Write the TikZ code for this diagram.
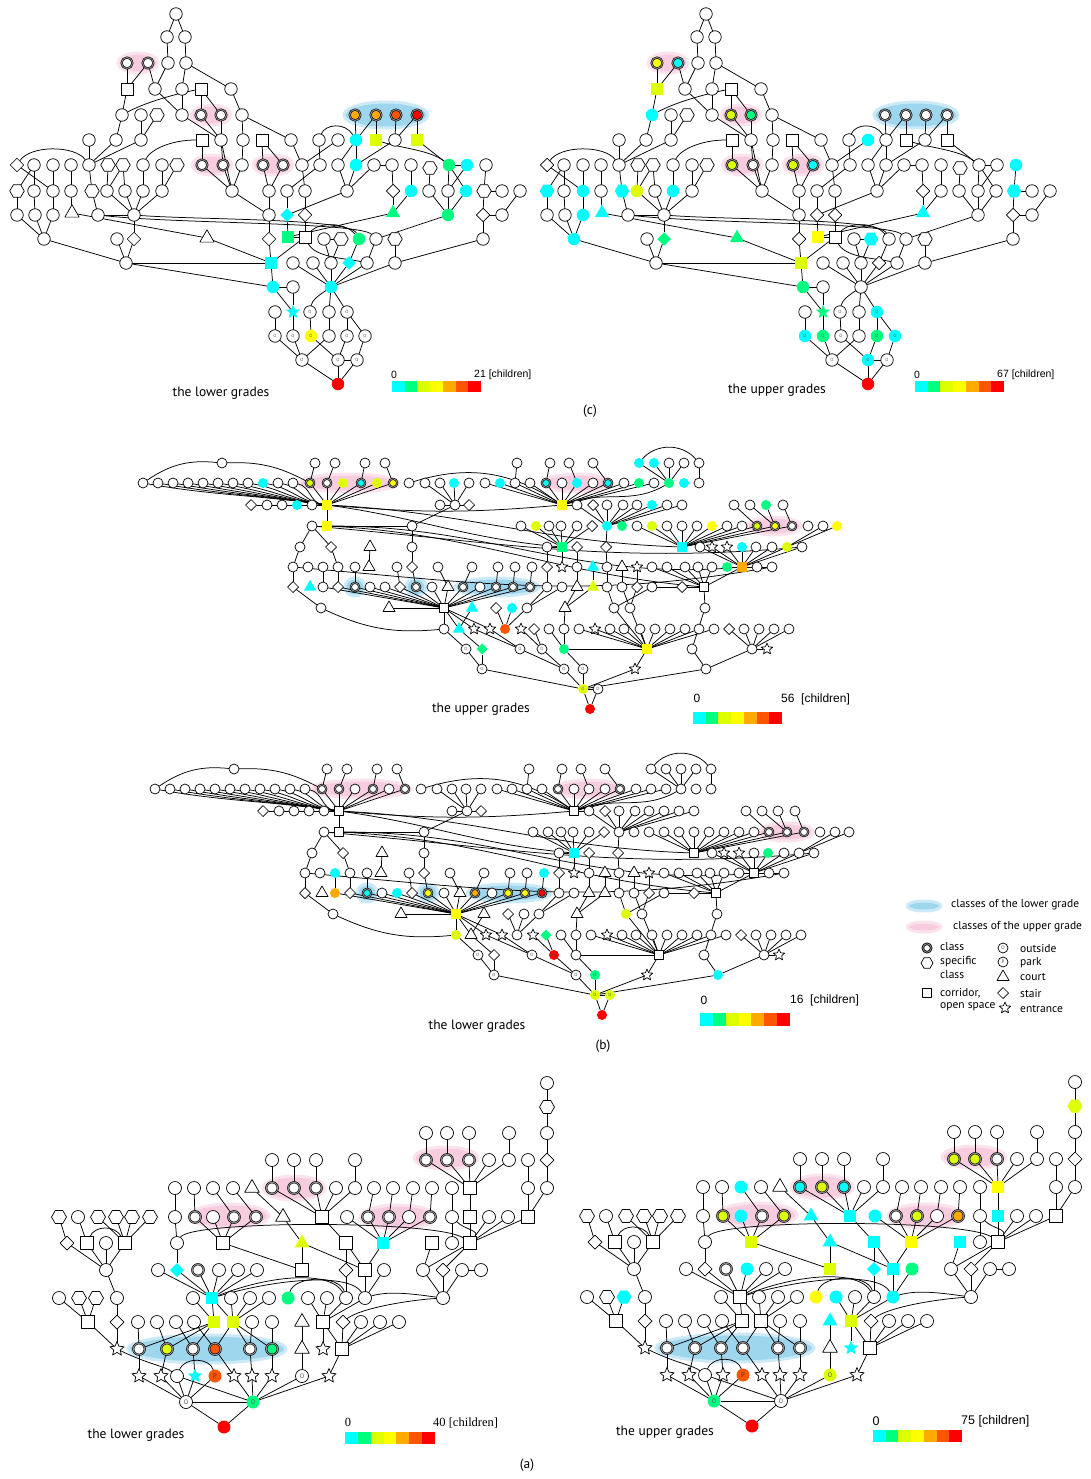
\documentclass[tikz,border=0pt]{standalone}
\usepackage{fontspec}
\setmainfont{PT Sans}
\newfontfamily\numfont{Liberation Sans}
\newfontfamily\serfont{Liberation Serif}
\usetikzlibrary{shapes.geometric}
\pgfdeclarelayer{background}
\pgfsetlayers{background,main}

\definecolor{ccy}{HTML}{00FFFF}
\definecolor{cgr}{HTML}{00FF80}
\definecolor{cyg}{HTML}{DDFF00}
\definecolor{cye}{HTML}{FFFF00}
\definecolor{cor}{HTML}{FFAA00}
\definecolor{cvr}{HTML}{FF5500}
\definecolor{cre}{HTML}{FF0000}
\definecolor{pinkin}{HTML}{F7CCDF}
\definecolor{pinkout}{HTML}{FBE3EE}
\definecolor{bluein}{HTML}{9ED6EE}
\definecolor{blueout}{HTML}{CBE9F6}

\def\nsz{12.5pt}
\def\osz{4.5}
\tikzset{
  nd/.style={inner sep=0pt, outer sep=0pt, line width=0.7pt, minimum size=\nsz},
  nc/.style={nd, circle},
  ncl/.style={nd, circle, draw, line width=0.6pt, double=black!45, double distance=0.9pt, minimum size=\nsz-1.5pt},
  nhex/.style={nd, regular polygon, regular polygon sides=6, minimum size=\nsz+2pt},
  nsq/.style={nd, rectangle, minimum size=\nsz-0.5pt},
  ntri/.style={nd, regular polygon, regular polygon sides=3, minimum size=\nsz+4pt},
  ndia/.style={nd, diamond, minimum size=\nsz+1pt},
  nstar/.style={nd, star, star points=5, star point ratio=2.2, minimum size=\nsz+2pt},
  nout/.style={nc, label={[font=\fontsize{\osz}{\osz}\selectfont, text=black!65, inner sep=0pt]center:O}},
  npark/.style={nc, label={[font=\fontsize{\osz}{\osz}\selectfont, text=black!80, inner sep=0pt]center:P}},
  fw/.style={fill=white, draw},
  fcy/.style={fill=ccy}, fgr/.style={fill=cgr}, fyg/.style={fill=cyg},
  fye/.style={fill=cye}, for/.style={fill=cor}, fvr/.style={fill=cvr}, fre/.style={fill=cre},
  lnk/.style={line width=0.75pt},
  pk/.style={fill=pinkin, draw=pinkout, line width=3pt},
  bl/.style={fill=bluein, draw=blueout, line width=3pt},
  gtxt/.style={font=\fontsize{13.5}{15}\selectfont, inner sep=0pt},
  lgd/.style={font=\fontsize{11.5}{12}\selectfont, inner sep=0pt, anchor=west},
  bartxt/.style={font=\numfont\fontsize{#1}{#1}\selectfont, inner sep=0pt},
}

% ---------- (c) ----------
\def\nodesC{1/176/14/nc/fw/fw, 2/167/37/nc/fw/fw, 3/185/37/nc/fw/fw, 4/127/63/ncl/fw/fye, 5/148/63/ncl/fw/fcy,
 6/168/63/nc/fw/fw, 7/186/63/nc/fw/fw, 8/127/89/nsq/fw/fyg, 9/155/89/nc/fw/fw, 10/182/89/nc/fw/fw,
 11/201/89/nsq/fw/fw, 12/231/89/nc/fw/fw, 13/122/115/nc/fw/fcy, 14/141/115/nc/fw/fw, 15/157/115/nhex/fw/fw,
 16/182/115/nc/fw/fw, 17/201/115/ncl/fw/fyg, 18/221/115/ncl/fw/fgr, 19/242/115/nc/fw/fw, 20/355/115/ncl/for/fw,
 21/376/115/ncl/for/fw, 22/396/115/ncl/fvr/fw, 23/417/115/ncl/fre/fw, 24/89/140/nc/fw/fw, 25/116/140/nc/fw/fw,
 26/141/140/nc/fw/fw, 27/202/140/nsq/fw/fw, 28/221/140/nc/fw/fw, 29/243/140/nc/fw/fw, 30/262/140/nsq/fw/fw,
 31/291/140/nc/fw/fw, 32/319/140/nc/fw/fw, 33/338/140/nc/fw/fcy, 34/356/140/nc/fcy/fw, 35/376/140/nsq/fyg/fw,
 36/395/140/nc/fw/fw, 37/417/140/nsq/fyg/fw, 38/17/165/ndia/fw/fw, 39/34/165/nc/fw/fw, 40/53/165/nc/fw/fw,
 41/71/165/nc/fw/fw, 42/89/165/nc/fw/fw, 43/108/165/nhex/fw/fw, 44/123/165/nhex/fw/fw, 45/143/165/nc/fw/fw,
 46/162/165/nc/fw/fw, 47/177/165/nhex/fw/fw, 48/202/165/ncl/fw/fyg, 49/223/165/ncl/fw/fw, 50/242/165/nc/fw/fw,
 51/263/165/ncl/fw/fyg, 52/283/165/ncl/fw/fcy, 53/302/165/nc/fw/fw, 54/320/165/nc/fw/fw, 55/338/165/nc/fw/fw,
 56/356/165/nc/fcy/fw, 57/374/165/nc/fw/fw, 58/392/165/nc/fw/fw, 59/411/165/nc/fw/fw, 60/430/168/nhex/fw/fw,
 61/449/165/nc/fgr/fw, 62/467/165/nc/fcy/fw, 63/486/165/nc/fw/fcy, 64/17/191/nhex/fw/fcy, 65/34/191/nc/fw/fw,
 66/53/191/nc/fw/fcy, 67/71/191/nc/fw/fw, 68/92/191/nhex/fw/fcy, 69/107/191/nc/fw/fyg, 70/125/191/nc/fw/fw,
 71/143/191/nc/fw/fcy, 72/162/191/nc/fw/fw, 73/232/191/nc/fw/fw, 74/269/191/nc/fw/fw, 75/287/191/nc/fw/fw,
 76/305/191/nc/fw/fw, 77/347/191/nc/fw/fw, 78/393/191/ndia/fw/fw, 79/411/191/nc/fcy/fw, 80/429/191/nc/fw/fw,
 81/448/191/nc/fw/fw, 82/466/191/nc/fcy/fw, 83/484/191/nhex/fw/fcy, 84/502/191/nc/fw/fw, 85/520/191/nc/fw/fw,
 86/17/215/nc/fw/fw, 87/35/215/nc/fw/fw, 88/53/215/nc/fw/fcy, 89/72/213/ntri/fw/fcy, 90/98/215/nc/fw/fw,
 91/134/215/nc/fw/fw, 92/269/215/nc/fw/fw, 93/287/215/ndia/fcy/fw, 94/305/215/ndia/fw/fw, 95/393/213/ntri/fgr/fcy,
 96/448/215/nc/fgr/fw, 97/483/215/ndia/fw/fw, 98/502/215/nc/fw/fw, 99/44/239/nc/fw/fcy, 100/117/239/nc/fw/fw,
 101/134/239/ndia/fw/fgr, 102/207/238/ntri/fw/fgr, 103/269/239/ndia/fw/fw, 104/288/237/nsq/fgr/fye, 105/305/237/nsq/fw/fw,
 106/324/239/nc/fw/fw, 107/341/239/nhex/fw/fcy, 108/359/239/nc/fgr/fw, 109/376/239/nc/fw/fw, 110/395/239/nhex/fw/fw,
 111/483/239/nc/fw/fw, 112/126/263/nc/fw/fw, 113/271/263/nsq/fcy/fyg, 114/293/263/nc/fw/fw, 115/313/263/nc/fw/fw,
 116/331/263/nc/fw/fw, 117/349/263/ndia/fcy/fw, 118/367/263/nc/fw/fw, 119/395/263/nc/fw/fw, 120/273/287/nc/fcy/fgr,
 121/293/287/nc/fw/fw, 122/331/287/nc/fcy/fw, 123/275/312/nc/fw/fw, 124/293/312/nstar/fcy/fgr, 125/310/312/nout/fw/fw,
 126/329/312/nc/fw/fw, 127/347/312/nout/fw/fcy, 128/275/336/nout/fw/fcy, 129/293/336/nout/fw/fgr, 130/311/336/nout/fye/fw,
 131/329/336/nc/fw/fw, 132/347/336/nout/fw/fgr, 133/365/336/nout/fw/fcy, 134/302/360/nout/fw/fw, 135/338/360/nout/fw/fcy,
 136/357/360/nout/fw/fw, 137/338/384/nc/fre/fre}
\def\edgesC{1/2,1/3,2/6,3/7,4/8,5/8,5/9,6/9,7/10,7/12,10/16,8/13,9/16,11/17,11/18,12/19,13/25,14/26,15/26,24/42,25/42,26/42,
 16/28,18/28,17/28,19/29,19/31,27/48,28/49,29/50,30/51,30/52,48/73,49/73,50/73,28/73,38/66,39/64,39/65,40/66,41/67,64/86,
 65/87,66/88,67/89,86/99,87/99,88/99,89/102,102/113,42/68,68/90,90/91,43/69,44/69,44/70,45/71,46/72,47/72,69/91,70/91,
 71/91,72/91,91/101,101/112,100/112,99/112,112/113,112/120,73/92,51/74,52/74,74/92,92/103,103/113,75/93,76/94,93/104,
 94/105,104/105,105/113,20/34,21/34,21/35,22/36,23/36,23/37,34/55,34/56,36/56,31/53,32/54,33/53,53/76,54/75,55/77,56/77,
 57/77,77/93,57/58,58/78,59/79,60/80,61/62,37/61,61/81,61/82,62/81,63/83,83/84,78/95,79/95,95/104,80/96,81/96,82/96,
 96/109,83/97,85/98,97/98,97/111,111/119,108/117,109/118,110/119,106/116,107/116,106/107,113/120,114/122,115/122,116/122,
 117/122,118/122,119/122,120/121,120/124,121/124,122/126,122/127,123/128,124/129,125/130,126/131,127/132,127/133,
 128/134,129/134,131/134,130/135,132/135,133/136,135/136,134/137,135/137,136/137}

% ---------- (b) ----------
\def\nodesB{1/222/463/nc/fw/fw, 2/315/463/nc/fw/fw, 3/335/463/nc/fw/fw, 4/365/463/nc/fw/fw, 5/385/463/nc/fw/fw,
 6/517/463/nc/fw/fw, 7/550/463/nc/fw/fw, 8/569/463/nc/fw/fw, 9/593/463/nc/fw/fw, 10/639/463/nc/fcy/fw,
 11/654/463/nc/fcy/fw, 12/669/463/nc/fw/fw, 13/684/463/nc/fw/fw, 14/699/463/nc/fw/fw, 15/143/483/nc/fw/fw,
 16/158/483/nc/fw/fw, 17/173/483/nc/fw/fw, 18/188/483/nc/fw/fw, 19/203/483/nc/fw/fw, 20/218/483/nc/fw/fw,
 21/233/483/nc/fw/fw, 22/248/483/nc/fw/fw, 23/263/483/nc/fcy/fw, 24/278/483/nc/fw/fw, 25/293/483/nc/fw/fw,
 26/310/483/ncl/fyg/fw, 27/327/483/ncl/fw/fw, 28/343/483/nc/fyg/fw, 29/361/483/ncl/fcy/fw, 30/377/483/nc/fyg/fw,
 31/393/483/ncl/fye/fw, 32/409/483/nc/fw/fw, 33/425/483/nc/fw/fw, 34/440/483/nc/fw/fw, 35/454/483/nc/fcy/fw,
 36/469/483/nc/fw/fw, 37/485/483/nc/fw/fw, 38/500/483/nc/fcy/fw, 39/515/483/nc/fw/fw, 40/530/483/nc/fw/fw,
 41/546/483/ncl/fcy/fw, 42/562/483/nc/fw/fw, 43/577/483/nc/fcy/fw, 44/593/483/nc/fw/fw, 45/608/483/ncl/fcy/fw,
 46/624/483/nc/fw/fw, 47/639/483/nc/fgr/fw, 48/654/483/nc/fw/fw, 49/669/483/nc/fgr/fw, 50/684/483/nc/fcy/fw,
 51/699/483/nc/fw/fw, 52/251/505/ndia/fw/fw, 53/267/505/nc/fw/fw, 54/282/505/nc/fw/fw, 55/297/505/nc/fcy/fw,
 56/312/505/nc/fw/fw, 57/327/505/nsq/fye/fw, 58/440/505/nc/fw/fw, 59/455/505/nc/fw/fw, 60/469/505/ndia/fw/fw,
 61/562/505/nsq/fye/fw, 62/577/505/nc/fw/fw, 63/593/505/ndia/fw/fw, 64/607/505/nc/fw/fw, 65/623/505/nc/fw/fw,
 66/637/505/nc/fw/fw, 67/652/505/nc/fcy/fw, 68/667/505/nc/fw/fw, 69/682/505/nc/fw/fw, 70/734/505/nc/fw/fw,
 71/750/505/nc/fw/fw, 72/766/505/nc/fgr/fw, 73/783/505/nc/fw/fw, 74/312/526/nc/fw/fw, 75/327/526/nsq/fye/fw,
 76/412/526/nc/fw/fw, 77/521/526/nc/fw/fw, 78/536/526/nc/fyg/fw, 79/549/526/nc/fw/fw, 80/561/526/nc/fw/fw,
 81/577/526/nc/fw/fw, 82/592/526/ndia/fw/fw, 83/607/526/nc/fcy/fw, 84/622/526/nc/fgr/fw, 85/637/526/nc/fw/fw,
 86/652/526/nc/fyg/fw, 87/667/526/nc/fw/fw, 88/682/526/nc/fw/fw, 89/697/526/nc/fw/fw, 90/712/526/nc/fye/fw,
 91/727/526/nc/fw/fw, 92/742/526/nc/fw/fw, 93/757/526/ncl/fyg/fw, 94/775/526/ncl/fye/fw, 95/792/526/ncl/fw/fw,
 96/808/526/nc/fw/fw, 97/823/526/nc/fw/fw, 98/837/526/nc/fye/fw, 99/300/547/nc/fw/fw, 100/331/547/ndia/fw/fw,
 101/370/547/ntri/fw/fw, 102/412/547/nc/fw/fw, 103/547/547/nc/fw/fw, 104/562/547/nsq/fgr/fcy, 105/577/547/ndia/fw/fw,
 106/606/547/ndia/fw/fw, 107/682/547/nsq/fcy/fw, 108/700/547/nc/fw/fw, 109/712/547/nstar/fw/fw, 110/727/547/nstar/fw/fw,
 111/742/547/nc/fcy/fw, 112/756/547/nc/fw/fgr, 113/772/547/nc/fw/fw, 114/787/547/nc/fyg/fw, 115/802/547/nc/fw/fw,
 116/293/567/nc/fw/fw, 117/308/567/nc/fw/fw, 118/323/567/nc/fw/fcy, 119/338/567/nc/fw/fw, 120/355/567/nc/fw/fw,
 121/369/567/ntri/fw/fw, 122/397/567/nc/fw/fw, 123/412/567/ndia/fw/fw, 124/438/567/nc/fw/fw, 125/472/567/nc/fw/fw,
 126/498/567/nc/fw/fw, 127/515/567/nc/fw/fw, 128/532/567/nc/fw/fcy, 129/547/567/ndia/fw/fw, 130/562/567/nstar/fw/fw,
 131/577/567/nc/fw/fw, 132/593/567/ntri/fcy/fw, 133/607/567/nc/fw/fw, 134/622/567/ntri/fw/fw, 135/637/567/nstar/fw/fw,
 136/652/567/nc/fw/fw, 137/667/567/nc/fw/fw, 138/685/567/nc/fw/fw, 139/698/567/nc/fw/fw, 140/712/567/nc/fw/fw,
 141/727/567/nc/fgr/fw, 142/742/567/nsq/for/fw, 143/757/567/nc/fw/fw, 144/772/567/nc/fw/fw, 145/293/587/ndia/fw/fw,
 146/310/587/ntri/fcy/fw, 147/323/587/nc/fw/for, 148/338/587/ndia/fw/fw, 149/355/587/ncl/fw/fcy, 150/370/587/nc/fw/fw,
 151/385/587/nc/fw/fcy, 152/400/587/ndia/fw/fw, 153/416/587/ncl/fw/fye, 154/432/587/nc/fw/fw, 155/448/587/ntri/fw/fw,
 156/463/587/ncl/fw/for, 157/480/587/nc/fw/fw, 158/496/587/ncl/fw/fye, 159/513/587/ncl/fw/fye, 160/530/587/ncl/fw/fre,
 161/547/587/nc/fw/fw, 162/562/587/nc/fw/fw, 163/577/587/ntri/fw/fw, 164/593/587/ntri/fyg/fw, 165/607/587/nc/fw/fw,
 166/622/587/nc/fw/fw, 167/637/587/ndia/fw/fw, 168/652/587/nc/fw/fw, 169/682/587/ndia/fw/fw, 170/704/587/nsq/fw/fw,
 171/321/608/nc/fw/fw, 172/389/608/ntri/fw/fw, 173/444/608/nsq/fw/fye, 174/472/608/ntri/fcy/fw, 175/496/608/ndia/fw/fw,
 176/512/608/nc/fcy/fw, 177/527/608/nc/fw/fw, 178/565/608/ntri/fw/fw, 179/614/608/nc/fw/fyg, 180/630/608/nc/fw/fw,
 181/705/608/nc/fw/fw, 182/444/629/nc/fw/fyg, 183/459/629/ntri/fcy/fw, 184/474/629/nstar/fw/fw, 185/490/629/nstar/fw/fw,
 186/505/629/nc/fvr/fw, 187/521/629/nstar/fw/fw, 188/534/629/ndia/fw/fgr, 189/549/629/nc/fw/fw, 190/564/629/nc/fw/fw,
 191/579/629/nc/fw/fw, 192/595/629/nstar/fw/fw, 193/610/629/nc/fw/fw, 194/624/629/nc/fw/fw, 195/640/629/nc/fw/fw,
 196/655/629/nc/fw/fw, 197/670/629/nc/fw/fw, 198/685/629/nc/fw/fw, 199/699/629/nc/fw/fw, 200/714/629/nc/fw/fw,
 201/729/629/ndia/fw/fw, 202/744/629/nc/fw/fw, 203/759/629/nc/fw/fw, 204/774/629/nc/fw/fw, 205/789/629/nc/fw/fw,
 206/466/649/nout/fw/fw, 207/482/649/ndia/fgr/fw, 208/520/649/nout/fw/fw, 209/542/649/nout/fw/fre, 210/564/649/nc/fgr/fw,
 211/647/649/nsq/fye/fw, 212/692/649/nc/fw/fw, 213/752/649/nc/fw/fw, 214/767/649/nstar/fw/fw, 215/482/669/nout/fw/fw,
 216/564/669/nout/fw/fw, 217/583/669/nout/fw/fgr, 218/635/669/nstar/fw/fw, 219/706/669/nc/fw/fcy, 220/583/689/nout/fyg/fyg,
 221/598/689/nout/fw/fyg, 222/590/709/nc/fre/fre}
\def\edgesB{2/26,3/27,4/29,5/31,26/57,27/57,28/57,29/57,30/57,31/57,52/57,53/57,54/57,55/57,56/57,57/75,75/74,74/99,74/100,
 99/116,116/145,100/119,75/76,76/102,102/123,101/121,59/76,58/59,59/60,33/59,34/59,35/59,36/59,6/39,7/41,8/43,9/45,10/49,
 11/49,12/49,13/49,14/51,37/61,38/61,39/61,40/61,41/61,42/61,43/61,44/61,45/61,46/61,47/61,48/61,61/62,62/83,63/83,64/83,
 65/83,66/83,67/83,68/83,69/83,83/106,106/133,70/93,71/94,72/94,73/95,85/107,86/107,87/107,88/107,89/107,90/107,91/107,
 92/107,93/107,94/107,95/107,97/114,98/114,77/104,78/104,79/104,80/104,81/104,82/104,103/104,104/130,103/129,105/131,
 108/142,109/142,110/142,111/142,112/142,113/142,114/142,115/142,141/142,143/142,144/142,142/170,136/170,137/170,138/170,
 139/170,140/170,168/170,169/170,170/181,118/147,119/148,120/149,122/152,123/153,124/155,125/156,126/158,127/159,128/160,
 129/161,131/163,132/164,133/165,134/166,135/167,147/173,148/173,149/173,150/173,151/173,152/173,153/173,154/173,155/173,
 156/173,157/173,158/173,159/173,160/173,145/171,172/173,173/182,173/183,173/184,173/185,174/183,175/186,176/186,177/186,
 161/177,162/177,163/178,164/178,178/190,165/179,166/180,168/179,167/180,179/211,180/211,191/211,192/211,193/211,194/211,
 195/211,196/211,197/211,198/211,199/211,200/211,189/210,190/210,188/209,210/211,181/212,201/213,202/213,203/213,204/213,
 205/213,213/214,182/206,183/207,206/215,207/215,184/208,185/208,187/209,208/216,209/216,210/217,211/218,216/220,217/220,
 218/220,219/220,215/220,220/221,220/222,221/222,212/219,213/219}

% ---------- (a) ----------
\def\nodesA{1/507/13/nc/fw/fw, 2/507/37/nhex/fw/fyg, 3/507/63/nc/fw/fw, 4/507/90/ndia/fw/fw, 5/507/118/nc/fw/fw,
 6/488/90/nc/fw/fw, 7/488/118/nc/fw/fw, 8/488/147/nsq/fw/fw, 9/386/63/nc/fw/fw, 10/407/63/nc/fw/fw,
 11/429/63/nc/fw/fw, 12/469/63/nc/fw/fw, 13/386/90/ncl/fw/fyg, 14/407/90/ncl/fw/fyg, 15/429/90/ncl/fw/fw,
 16/449/90/nc/fw/fw, 17/469/90/nc/fw/fw, 18/430/118/nsq/fw/fye, 19/430/147/nsq/fw/fcy, 20/430/173/nsq/fw/fw,
 21/232/90/nc/fw/fw, 22/254/90/nc/fw/fw, 23/276/90/nc/fw/fw, 24/315/90/nc/fw/fw, 25/135/118/nc/fw/fw,
 26/154/118/nc/fw/fw, 27/173/118/nc/fw/fcy, 28/193/118/nc/fw/fw, 29/212/118/ntri/fw/fw, 30/232/118/ncl/fw/fcy,
 31/254/118/ncl/fw/fyg, 32/276/118/ncl/fw/fcy, 33/296/118/nc/fw/fw, 34/315/118/nc/fw/fw, 35/334/118/nc/fw/fw,
 36/353/118/nc/fw/fw, 37/373/118/nc/fw/fw, 38/392/118/nc/fw/fw, 39/412/118/nc/fw/fw, 40/19/147/nhex/fw/fw,
 41/38/147/nc/fw/fw, 42/58/147/nhex/fw/fw, 43/76/147/nhex/fw/fw, 44/92/147/nhex/fw/fw, 45/110/147/nhex/fw/fw,
 46/135/147/nc/fw/fw, 47/155/147/ncl/fw/fyg, 48/173/147/nc/fw/fcy, 49/194/147/ncl/fw/fw, 50/216/147/ncl/fw/fyg,
 51/243/147/ntri/fw/fcy, 52/282/147/nsq/fw/fcy, 53/307/147/nc/fw/fcy, 54/328/147/ncl/fw/fw, 55/349/147/ncl/fw/fyg,
 56/369/147/nc/fw/fw, 57/390/147/ncl/fw/for, 58/412/147/nc/fw/fw, 59/449/147/nc/fw/fw, 60/468/147/nc/fw/fw,
 61/27/173/ndia/fw/fw, 62/47/173/nsq/fw/fw, 63/66/173/nc/fw/fw, 64/85/173/nsq/fw/fw, 65/137/173/nc/fw/fw,
 66/183/173/nsq/fw/fyg, 67/262/173/ntri/fyg/fcy, 68/306/173/nsq/fw/fcy, 69/343/173/nsq/fcy/fye, 70/392/173/nsq/fw/fcy,
 71/412/173/nc/fw/fw, 72/66/200/nc/fw/fw, 73/118/200/nc/fw/fw, 74/137/200/ndia/fcy/fw, 75/158/200/ncl/fw/fw,
 76/179/200/nc/fw/fcy, 77/198/200/nc/fw/fw, 78/217/200/nc/fw/fw, 79/262/200/nsq/fw/fyg, 80/306/200/ndia/fw/fcy,
 81/325/200/nsq/fw/fcy, 82/344/200/nc/fw/fgr, 83/383/200/nc/fw/fw, 84/403/200/ndia/fw/fw, 85/422/200/nc/fw/fw,
 86/441/200/nc/fw/fw, 87/19/228/nc/fw/fw, 88/39/228/nhex/fw/fw, 89/56/228/nhex/fw/fcy, 90/77/228/nc/fw/fw,
 91/153/228/nc/fw/fw, 92/172/228/nsq/fcy/fw, 93/191/228/nc/fw/fw, 94/210/228/nc/fw/fw, 95/229/228/nc/fw/fw,
 96/248/228/nc/fgr/fye, 97/268/228/nc/fw/fcy, 98/287/228/nc/fw/fw, 99/306/228/nc/fw/fw, 100/325/228/nc/fw/fcy,
 101/403/228/nc/fw/fw, 102/48/252/nsq/fw/fw, 103/77/252/ndia/fw/fw, 104/98/252/nc/fw/fw, 105/117/252/nc/fw/fw,
 106/136/252/nc/fw/fw, 107/154/252/nc/fw/fw, 108/174/252/nsq/fyg/fw, 109/193/252/nsq/fyg/fw, 110/212/252/nc/fw/fw,
 111/232/252/nc/fw/fw, 112/262/252/ntri/fw/fcy, 113/283/252/nsq/fw/fyg, 114/303/252/ndia/fw/fw, 115/321/252/nc/fw/fw,
 116/340/252/nc/fw/fw, 117/359/252/nc/fw/fw, 118/77/279/nstar/fw/fw, 119/99/279/ncl/fw/fw, 120/127/279/ncl/fyg/fw,
 121/153/279/ncl/fw/fw, 122/175/279/ncl/fvr/fw, 123/210/279/ncl/fw/fw, 124/232/279/ncl/fgr/fw, 125/262/279/ntri/fw/fw,
 126/283/279/nstar/fw/fcy, 127/302/279/nsq/fw/fw, 128/99/306/nstar/fw/fw, 129/121/306/nstar/fw/fw, 130/137/306/nc/fw/fw,
 131/155/306/nstar/fcy/fw, 132/175/306/npark/fvr/fvr, 133/194/306/nstar/fw/fw, 134/212/306/nstar/fw/fw, 135/232/306/nstar/fw/fw,
 136/262/306/nout/fw/fyg, 137/289/306/nstar/fw/fw, 138/146/332/nout/fw/fgr, 139/213/332/nout/fgr/fw, 140/184/357/nc/fre/fre}
\def\edgesA{1/2,2/3,3/4,4/5,5/8,6/7,7/8,8/20,9/13,10/14,11/15,12/17,13/18,14/18,15/18,16/18,17/18,18/19,19/20,21/30,22/31,
 23/32,24/34,30/52,31/52,32/52,33/52,34/52,25/46,26/47,27/49,28/50,29/51,51/67,35/54,36/55,37/56,38/57,39/58,53/69,54/69,
 55/69,56/69,57/69,58/71,59/20,60/20,40/61,41/62,42/64,43/64,44/64,45/64,61/72,62/72,63/72,64/72,72/90,90/103,103/118,
 46/65,47/66,48/66,49/66,50/66,66/79,67/79,67/81,52/68,68/80,68/81,80/99,69/81,81/100,82/100,70/83,20/83,83/101,84/101,
 85/101,85/86,84/20,65/74,73/92,74/92,75/92,76/92,77/92,78/92,92/108,92/109,91/108,93/109,94/109,95/109,87/102,88/102,
 89/102,102/118,104/119,105/120,106/121,107/122,110/123,111/124,108/119,108/120,108/121,109/122,109/123,109/124,97/113,
 98/113,99/113,100/113,113/126,114/127,115/127,116/127,117/127,113/127,112/125,125/136,127/137,119/128,120/129,121/131,
 122/133,123/134,124/135,128/138,129/138,130/138,131/138,132/138,133/139,134/139,135/139,136/139,137/139,138/139,130/139,
 138/140,139/140}

\begin{document}
\begin{tikzpicture}[x=1pt, y=-1pt, line join=round, line cap=round]
\useasboundingbox (0,0) rectangle (1090,1479);

% (c) the lower grades
\begin{scope}
  \begin{pgfonlayer}{background}
    \draw[pk] (138,63) ellipse (20pt and 10pt);
    \draw[pk] (211,115) ellipse (20pt and 10pt);
    \draw[pk] (212,165) ellipse (20pt and 10pt);
    \draw[pk] (273,165) ellipse (20pt and 10pt);
    \draw[bl] (386,115) ellipse (42pt and 13pt);
  \end{pgfonlayer}
  \foreach \n/\x/\y/\s/\ca/\cb in \nodesC {\node[\s,\ca] (cL\n) at (\x,\y) {};}
  \begin{pgfonlayer}{background}
    \foreach \u/\v in \edgesC {\draw[lnk] (cL\u) -- (cL\v);}
    \draw[lnk] (cL38) .. controls (30,145) and (75,145) .. (cL42);
    \draw[lnk] (cL13) .. controls (150,100) and (185,92) .. (cL11);
    \draw[lnk] (cL27) .. controls (170,140) and (150,150) .. (cL45);
    \draw[lnk] (cL32) .. controls (325,124) and (345,122) .. (cL34);
    \draw[lnk] (cL105) .. controls (320,222) and (345,222) .. (cL108);
    \draw[lnk] (cL105) .. controls (315,258) and (345,258) .. (cL118);
    \draw[lnk] (cL35) .. controls (400,148) and (430,150) .. (cL61);
    \draw[lnk] (cL122) .. controls (318,296) and (312,300) .. (cL125);
    \draw[lnk] (cL90) .. controls (180,224) and (360,222) .. (cL109);
    \draw[lnk] (cL91) .. controls (200,220) and (350,218) .. (cL108);
  \end{pgfonlayer}
\end{scope}
\node[gtxt] (lowC) at (221,393) {the lower grades};
\foreach \c [count=\i from 0] in {ccy,cgr,cyg,cye,cor,cvr,cre}
  \fill[\c] ({392+\i*12.7},381) rectangle ++(12.7,11);
\node[bartxt=10.5] (zeroCL) at (394,375) {0};
\node[bartxt=10.5, anchor=west] (maxCL) at (474,375) {21 [children]};

% (c) the upper grades
\begin{scope}[shift={(530,0)}]
  \begin{pgfonlayer}{background}
    \draw[pk] (138,63) ellipse (20pt and 10pt);
    \draw[pk] (211,115) ellipse (20pt and 10pt);
    \draw[pk] (212,165) ellipse (20pt and 10pt);
    \draw[pk] (273,165) ellipse (20pt and 10pt);
    \draw[bl] (386,115) ellipse (42pt and 13pt);
  \end{pgfonlayer}
  \foreach \n/\x/\y/\s/\ca/\cb in \nodesC {\node[\s,\cb] (cR\n) at (\x,\y) {};}
  \begin{pgfonlayer}{background}
    \foreach \u/\v in \edgesC {\draw[lnk] (cR\u) -- (cR\v);}
    \draw[lnk] (cR38) .. controls (30,145) and (75,145) .. (cR42);
    \draw[lnk] (cR13) .. controls (150,100) and (185,92) .. (cR11);
    \draw[lnk] (cR27) .. controls (170,140) and (150,150) .. (cR45);
    \draw[lnk] (cR32) .. controls (325,124) and (345,122) .. (cR34);
    \draw[lnk] (cR105) .. controls (320,222) and (345,222) .. (cR108);
    \draw[lnk] (cR105) .. controls (315,258) and (345,258) .. (cR118);
    \draw[lnk] (cR35) .. controls (400,148) and (430,150) .. (cR61);
    \draw[lnk] (cR122) .. controls (318,296) and (312,300) .. (cR125);
    \draw[lnk] (cR90) .. controls (180,224) and (360,222) .. (cR109);
    \draw[lnk] (cR91) .. controls (200,220) and (350,218) .. (cR108);
  \end{pgfonlayer}
\end{scope}
\node[gtxt] (uppC) at (777,390) {the upper grades};
\foreach \c [count=\i from 0] in {ccy,cgr,cyg,cye,cor,cvr,cre}
  \fill[\c] ({915+\i*12.7},381) rectangle ++(12.7,11);
\node[bartxt=10.5] (zeroCR) at (917,375) {0};
\node[bartxt=10.5, anchor=west] (maxCR) at (997,375) {67 [children]};
\node[gtxt] (capC) at (590,411) {(c)};

% (b) the upper grades
\begin{scope}
  \def\nsz{10pt}
  \begin{pgfonlayer}{background}
    \draw[pk] (349,483) ellipse (50pt and 9pt);
    \draw[pk] (577,483) ellipse (35pt and 9pt);
    \draw[pk] (774,526) ellipse (27pt and 9pt);
    \draw[bl] (355,587) ellipse (10pt and 9pt);
    \draw[bl] (416,587) ellipse (10pt and 9pt);
    \draw[bl] (497,587) ellipse (42pt and 9pt);
  \end{pgfonlayer}
  \foreach \n/\x/\y/\s/\ca/\cb in \nodesB {\node[\s,\ca] (bT\n) at (\x,\y) {};}
  \begin{pgfonlayer}{background}
    \foreach \u/\v in \edgesB {\draw[lnk] (bT\u) -- (bT\v);}
    \foreach \i in {15,...,25} {\draw[lnk] (bT\i) to[out=-10,in=172] (bT57);}
    \draw[lnk] (bT15) to[bend left=20] (bT1);
    \draw[lnk] (bT1) to[bend left=15] (bT26);
    \draw[lnk] (bT57) to[out=-5,in=185] (bT61);
    \draw[lnk] (bT57) to[out=-8,in=175] (bT104);
    \draw[lnk] (bT57) to[out=-3,in=178] (bT107);
    \draw[lnk] (bT75) to[out=0,in=185] (bT142);
    \draw[lnk] (bT75) to[out=-3,in=175] (bT170);
    \draw[lnk] (bT32) to[bend left=25] (bT61);
    \draw[lnk] (bT10) to[bend left=50] (bT14);
    \draw[lnk] (bT49) to[out=-150,in=20] (bT61);
    \draw[lnk] (bT171) to[bend right=15] (bT182);
    \draw[lnk] (bT74) to[out=-5,in=185] (bT115);
    \draw[lnk] (bT116) to[out=-5,in=190] (bT144);
  \end{pgfonlayer}
\end{scope}
\node[gtxt] (uppB) at (481,709) {the upper grades};
\foreach \c [count=\i from 0] in {ccy,cgr,cyg,cye,cor,cvr,cre}
  \fill[\c] ({693+\i*12.7},712) rectangle ++(12.7,12);
\node[bartxt=12] (zeroBT) at (697,698) {0};
\node[bartxt=12, anchor=west] (maxBT) at (781,699) {56\ \ [children]};

% (b) the lower grades
\begin{scope}[shift={(12,306)}]
  \def\nsz{10pt}
  \begin{pgfonlayer}{background}
    \draw[pk] (349,483) ellipse (50pt and 9pt);
    \draw[pk] (577,483) ellipse (35pt and 9pt);
    \draw[pk] (774,526) ellipse (27pt and 9pt);
    \draw[bl] (355,587) ellipse (10pt and 9pt);
    \draw[bl] (416,587) ellipse (10pt and 9pt);
    \draw[bl] (497,587) ellipse (42pt and 9pt);
  \end{pgfonlayer}
  \foreach \n/\x/\y/\s/\ca/\cb in \nodesB {\node[\s,\cb] (bB\n) at (\x,\y) {};}
  \begin{pgfonlayer}{background}
    \foreach \u/\v in \edgesB {\draw[lnk] (bB\u) -- (bB\v);}
    \foreach \i in {15,...,25} {\draw[lnk] (bB\i) to[out=-10,in=172] (bB57);}
    \draw[lnk] (bB15) to[bend left=20] (bB1);
    \draw[lnk] (bB1) to[bend left=15] (bB26);
    \draw[lnk] (bB57) to[out=-5,in=185] (bB61);
    \draw[lnk] (bB57) to[out=-8,in=175] (bB104);
    \draw[lnk] (bB57) to[out=-3,in=178] (bB107);
    \draw[lnk] (bB75) to[out=0,in=185] (bB142);
    \draw[lnk] (bB75) to[out=-3,in=175] (bB170);
    \draw[lnk] (bB32) to[bend left=25] (bB61);
    \draw[lnk] (bB10) to[bend left=50] (bB14);
    \draw[lnk] (bB49) to[out=-150,in=20] (bB61);
    \draw[lnk] (bB171) to[bend right=15] (bB182);
    \draw[lnk] (bB74) to[out=-5,in=185] (bB115);
    \draw[lnk] (bB116) to[out=-5,in=190] (bB144);
  \end{pgfonlayer}
\end{scope}
\node[gtxt] (lowB) at (477,1026) {the lower grades};
\foreach \c [count=\i from 0] in {ccy,cgr,cyg,cye,cor,cvr,cre}
  \fill[\c] ({700+\i*12.85},1013) rectangle ++(12.85,13);
\node[bartxt=12] (zeroBB) at (704,1000) {0};
\node[bartxt=12, anchor=west] (maxBB) at (790,1000) {16\ \ [children]};
\node[gtxt] (capB) at (603,1046) {(b)};

% legend
\begin{scope}
  \def\nsz{10pt}
  \def\osz{5}
  \draw[bl] (924,906) ellipse (17pt and 5pt);
  \draw[pk] (924,927) ellipse (17pt and 5pt);
  \node[lgd] (lgLow) at (951,905) {classes of the lower grade};
  \node[lgd] (lgUpp) at (953,927) {classes of the upper grade};
  \node[ncl,fw, line width=0.8pt] (lgCls) at (927,948) {};
  \node[nhex,fw] (lgHex) at (927,963) {};
  \node[nsq,fw] (lgSq) at (927,993) {};
  \node[nout,fw] (lgOut) at (1003,948) {};
  \node[npark,fw] (lgPark) at (1003,962) {};
  \node[ntri,fw] (lgTri) at (1003,977) {};
  \node[ndia,fw] (lgDia) at (1003,993) {};
  \node[nstar,fw] (lgStar) at (1005,1008) {};
  \node[lgd] (tCls) at (940,947) {class};
  \node[lgd] (tSpec) at (940,962) {specific};
  \node[lgd] (tSpec2) at (940,975) {class};
  \node[lgd] (tCor) at (940,993) {corridor,};
  \node[lgd] (tCor2) at (940,1007) {open space};
  \node[lgd] (tOut) at (1020,948) {outside};
  \node[lgd] (tPark) at (1020,963) {park};
  \node[lgd] (tCourt) at (1020,977) {court};
  \node[lgd] (tStair) at (1020,993) {stair};
  \node[lgd] (tEnt) at (1020,1009) {entrance};
\end{scope}

% (a) the lower grades
\begin{scope}[shift={(40,1070)}]
  \def\nsz{13pt}
  \def\osz{6.5}
  \begin{pgfonlayer}{background}
    \draw[pk] (406,88) ellipse (32pt and 11pt);
    \draw[pk] (254,118) ellipse (31pt and 12pt);
    \draw[pk] (189,146) ellipse (40pt and 12pt);
    \draw[pk] (358,147) ellipse (38pt and 12pt);
    \draw[bl] (167,279) ellipse (79pt and 14pt);
  \end{pgfonlayer}
  \foreach \n/\x/\y/\s/\ca/\cb in \nodesA {\node[\s,\ca] (aL\n) at (\x,\y) {};}
  \begin{pgfonlayer}{background}
    \foreach \u/\v in \edgesA {\draw[lnk] (aL\u) -- (aL\v);}
    \draw[lnk] (aL65) .. controls (150,150) and (400,150) .. (aL20);
    \draw[lnk] (aL62) .. controls (55,155) and (75,155) .. (aL64);
    \draw[lnk] (aL92) .. controls (230,205) and (290,200) .. (aL99);
    \draw[lnk] (aL92) .. controls (240,208) and (310,203) .. (aL100);
    \draw[lnk] (aL96) .. controls (255,205) and (300,205) .. (aL99);
    \draw[lnk] (aL100) .. controls (350,220) and (380,225) .. (aL101);
    \draw[lnk] (aL114) .. controls (320,238) and (370,230) .. (aL101);
    \draw[lnk] (aL118) .. controls (110,295) and (125,296) .. (aL130);
    \draw[lnk] (aL130) .. controls (145,286) and (170,288) .. (aL132);
    \draw[lnk] (aL58) .. controls (425,160) and (440,160) .. (aL20);
  \end{pgfonlayer}
\end{scope}
\node[gtxt] (lowA) at (136,1435) {the lower grades};
\foreach \c [count=\i from 0] in {ccy,cgr,cyg,cye,cor,cvr,cre}
  \fill[\c] ({345+\i*12.85},1432) rectangle ++(12.85,12);
\node[font=\serfont\fontsize{12.5}{13}\selectfont, inner sep=0pt] (zeroAL) at (348,1422) {0};
\node[font=\serfont\fontsize{12.5}{13}\selectfont, inner sep=0pt, anchor=west] (maxAL) at (433,1423) {40 [children]};

% (a) the upper grades
\begin{scope}[shift={(568,1069)}]
  \def\nsz{13pt}
  \def\osz{6.5}
  \begin{pgfonlayer}{background}
    \draw[pk] (406,88) ellipse (32pt and 11pt);
    \draw[pk] (254,118) ellipse (31pt and 12pt);
    \draw[pk] (189,146) ellipse (40pt and 12pt);
    \draw[pk] (358,147) ellipse (38pt and 12pt);
    \draw[bl] (167,279) ellipse (79pt and 14pt);
  \end{pgfonlayer}
  \foreach \n/\x/\y/\s/\ca/\cb in \nodesA {\node[\s,\cb] (aR\n) at (\x,\y) {};}
  \begin{pgfonlayer}{background}
    \foreach \u/\v in \edgesA {\draw[lnk] (aR\u) -- (aR\v);}
    \draw[lnk] (aR65) .. controls (150,150) and (400,150) .. (aR20);
    \draw[lnk] (aR62) .. controls (55,155) and (75,155) .. (aR64);
    \draw[lnk] (aR92) .. controls (230,205) and (290,200) .. (aR99);
    \draw[lnk] (aR92) .. controls (240,208) and (310,203) .. (aR100);
    \draw[lnk] (aR96) .. controls (255,205) and (300,205) .. (aR99);
    \draw[lnk] (aR100) .. controls (350,220) and (380,225) .. (aR101);
    \draw[lnk] (aR114) .. controls (320,238) and (370,230) .. (aR101);
    \draw[lnk] (aR118) .. controls (110,295) and (125,296) .. (aR130);
    \draw[lnk] (aR130) .. controls (145,286) and (170,288) .. (aR132);
    \draw[lnk] (aR58) .. controls (425,160) and (440,160) .. (aR20);
  \end{pgfonlayer}
\end{scope}
\node[gtxt] (uppA) at (665,1432) {the upper grades};
\foreach \c [count=\i from 0] in {ccy,cgr,cyg,cye,cor,cvr,cre}
  \fill[\c] ({873+\i*12.7},1430) rectangle ++(12.7,12);
\node[bartxt=12.5] (zeroAR) at (876,1421) {0};
\node[bartxt=12.5, anchor=west] (maxAR) at (961,1421) {75 [children]};
\node[gtxt] (capA) at (527,1465) {(a)};
\end{tikzpicture}
\end{document}
